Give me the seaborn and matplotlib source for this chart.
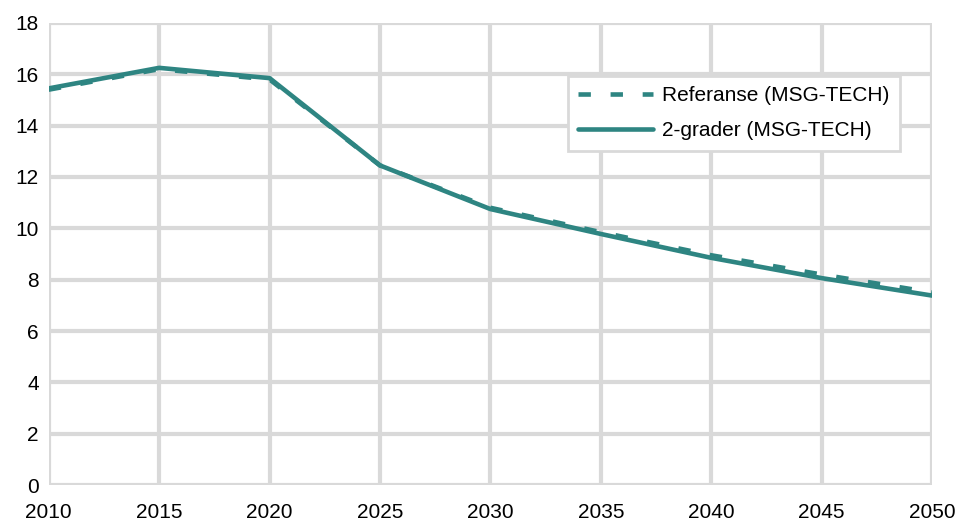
import pandas as pd
import seaborn as sns
import matplotlib.pyplot as plt

years = [2010, 2015, 2020, 2025, 2030, 2035, 2040, 2045, 2050]
referanse = [15.4, 16.2, 15.8, 12.45, 10.8, 9.85, 8.95, 8.2, 7.5]
to_grader = [15.45, 16.25, 15.85, 12.45, 10.75, 9.78, 8.85, 8.06, 7.38]

color = "#2e8582"

sns.set_style("white")
plt.rcParams['font.family'] = ['Liberation Sans', 'DejaVu Sans']

fig = plt.figure(figsize=(9.55, 5.21), dpi=100)
ax = fig.add_axes([0.051, 0.069, 0.925, 0.887])

df = pd.DataFrame({"år": years, "Referanse (MSG-TECH)": referanse, "2-grader (MSG-TECH)": to_grader})

sns.lineplot(data=df, x="år", y="Referanse (MSG-TECH)", ax=ax, color=color,
             linewidth=3.3, dashes=(2.7, 4.3), label="Referanse (MSG-TECH)")
sns.lineplot(data=df, x="år", y="2-grader (MSG-TECH)", ax=ax, color=color,
             linewidth=3.3, label="2-grader (MSG-TECH)")
ax.lines[0].set_dash_capstyle("butt")
ax.lines[1].set_solid_capstyle("round")

ax.set_xlim(2010, 2050)
ax.set_ylim(0, 18)
ax.set_xticks(range(2010, 2051, 5))
ax.set_yticks(range(0, 19, 2))
ax.grid(True, color="#d9d9d9", linewidth=3)
ax.set_axisbelow(True)
for s in ax.spines.values():
    s.set_visible(False)
ax.tick_params(axis="y", length=0, labelsize=15, colors="#000000", pad=7)
ax.tick_params(axis="x", length=0, labelsize=15, colors="#000000", pad=13)
ax.set_xlabel("")
ax.set_ylabel("")

leg = ax.legend(loc="upper right", bbox_to_anchor=(0.964, 0.885), fontsize=15,
                frameon=True, fancybox=False, framealpha=1, edgecolor="#d9d9d9",
                handlelength=3.6, borderpad=0.5, labelspacing=0.75, handletextpad=0.45,
                borderaxespad=0)
leg.get_frame().set_linewidth(2)
for t in leg.get_texts():
    t.set_color("#000000")

fig.savefig("out.png", dpi=100)
